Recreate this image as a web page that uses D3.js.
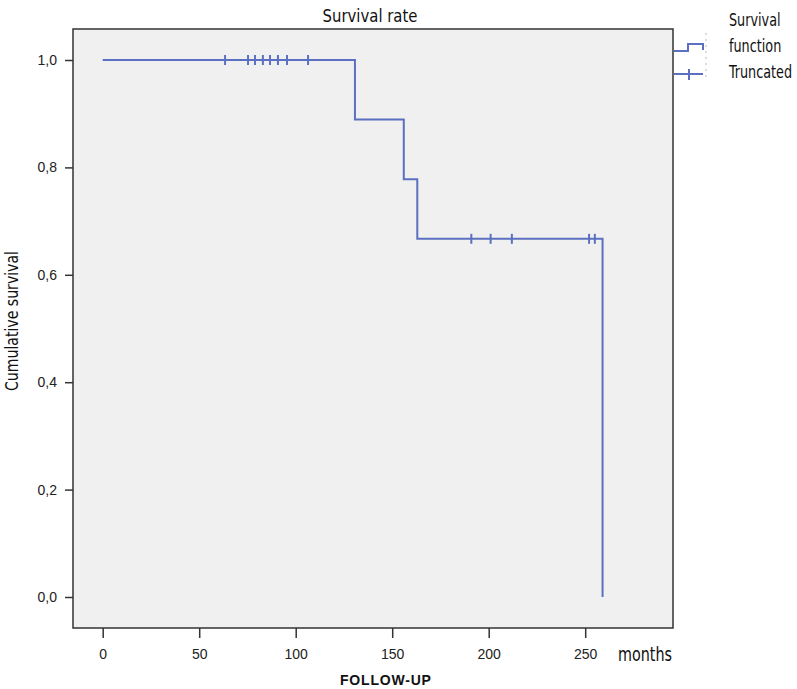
<!DOCTYPE html>
<html>
<head>
<meta charset="utf-8">
<script src="https://cdn.jsdelivr.net/npm/d3@7"></script>
<style>
  body { margin: 0; background: #fff; }
  svg { display: block; }
  .cond { font-family: "DejaVu Sans Condensed", "DejaVu Sans", sans-serif; }
</style>
</head>
<body>
<svg id="chart" width="797" height="689"></svg>
<script>
// ---- data ----
const eventTimes = [130.7, 156, 163, 259];           // months at which survival drops
const survivalLevels = [1.0, 0.889, 0.778, 0.667, 0.0]; // level before first event, then after each
const censoredTimes = [63.4, 75.3, 78.9, 83, 86.7, 90.8, 95.5, 106.4, 191, 201, 212, 252, 255];
const xTicks = [0, 50, 100, 150, 200, 250];
const yTicks = [0, 0.2, 0.4, 0.6, 0.8, 1.0];
const titleText = "Survival rate";
const xLabel = "FOLLOW-UP";
const xUnit = "months";
const yLabel = "Cumulative survival";
const legendLabels = ["Survival", "function", "Truncated"];

const svg = d3.select("#chart");
const frame = {left: 73, top: 29, right: 673, bottom: 628};
const lineColor = "#5b70c0";

const x = d3.scaleLinear().domain([0, 250]).range([102.7, 585.2]);
const y = d3.scaleLinear().domain([0, 1]).range([597, 60]);

// plot background
svg.append("rect")
  .attr("x", frame.left).attr("y", frame.top)
  .attr("width", frame.right - frame.left).attr("height", frame.bottom - frame.top)
  .attr("fill", "#f0f0f0").attr("stroke", "#333").attr("stroke-width", 1.5);

// step function points
const pts = [[0, survivalLevels[0]]];
eventTimes.forEach((t, i) => {
  pts.push([t, survivalLevels[i]]);
  pts.push([t, survivalLevels[i + 1]]);
});
svg.append("path")
  .datum(pts)
  .attr("fill", "none").attr("stroke", lineColor).attr("stroke-width", 2)
  .attr("d", d3.line().x(d => x(d[0])).y(d => y(d[1])));

// censor marks
function survAt(t) {
  let s = survivalLevels[0];
  eventTimes.forEach((e, i) => { if (t >= e) s = survivalLevels[i + 1]; });
  return s;
}
svg.append("g").selectAll("line").data(censoredTimes).join("line")
  .attr("x1", d => x(d)).attr("x2", d => x(d))
  .attr("y1", d => y(survAt(d)) - 5).attr("y2", d => y(survAt(d)) + 5)
  .attr("stroke", lineColor).attr("stroke-width", 2);

// axes
const fmt = d => d3.format(".1f")(d).replace(".", ",");
const xAxis = svg.append("g").attr("transform", `translate(0,${frame.bottom})`)
  .call(d3.axisBottom(x).tickValues(xTicks).tickSize(10).tickPadding(11).tickFormat(d3.format("d")));
xAxis.select(".domain").remove();
xAxis.selectAll(".tick line").attr("stroke", "#333").attr("stroke-width", 1.5);

const yAxis = svg.append("g").attr("transform", `translate(${frame.left},0)`)
  .call(d3.axisLeft(y).tickValues(yTicks).tickSize(8).tickPadding(8).tickFormat(fmt));
yAxis.select(".domain").remove();
yAxis.selectAll(".tick line").attr("stroke", "#333").attr("stroke-width", 1.5);

[xAxis, yAxis].forEach(a => a.selectAll(".tick text")
  .attr("font-family", "'Liberation Sans', Arial, sans-serif")
  .attr("font-size", 14).attr("fill", "#222"));

// condensed text helper
function condText(x0, y0, txt, size, len, anchor) {
  return svg.append("text").attr("class", "cond")
    .attr("x", x0).attr("y", y0)
    .attr("text-anchor", anchor || "start")
    .attr("font-size", size).attr("fill", "#111")
    .attr("textLength", len).attr("lengthAdjust", "spacingAndGlyphs")
    .text(txt);
}

condText(370, 22, titleText, 18, 95, "middle");
condText(618, 661, xUnit, 20, 54);
condText(0, 0, yLabel, 17, 140, "middle")
  .attr("transform", "translate(18,321) rotate(-90)");

svg.append("text")
  .attr("x", 340).attr("y", 685)
  .attr("font-family", "'Liberation Sans', Arial, sans-serif")
  .attr("font-weight", "bold").attr("font-size", 14).attr("letter-spacing", 0.8)
  .attr("fill", "#111").text(xLabel);

// legend
const lg = svg.append("g");
lg.append("path")
  .attr("d", "M674,51 H688 V44 H703 V50")
  .attr("fill", "none").attr("stroke", lineColor).attr("stroke-width", 2);
lg.append("line").attr("x1", 706).attr("x2", 706).attr("y1", 33).attr("y2", 78)
  .attr("stroke", "#bbb").attr("stroke-width", 1).attr("stroke-dasharray", "2,4");
lg.append("line").attr("x1", 674).attr("x2", 703).attr("y1", 74).attr("y2", 74)
  .attr("stroke", lineColor).attr("stroke-width", 2);
lg.append("line").attr("x1", 689).attr("x2", 689).attr("y1", 69).attr("y2", 80)
  .attr("stroke", lineColor).attr("stroke-width", 2);
const legendY = [26, 52, 78];
legendLabels.forEach((d, i) => {
  svg.append("text").attr("class", "cond")
    .attr("transform", `translate(729,${legendY[i]}) scale(0.79,1)`)
    .attr("font-size", 18).attr("fill", "#111").text(d);
});
</script>
</body>
</html>
